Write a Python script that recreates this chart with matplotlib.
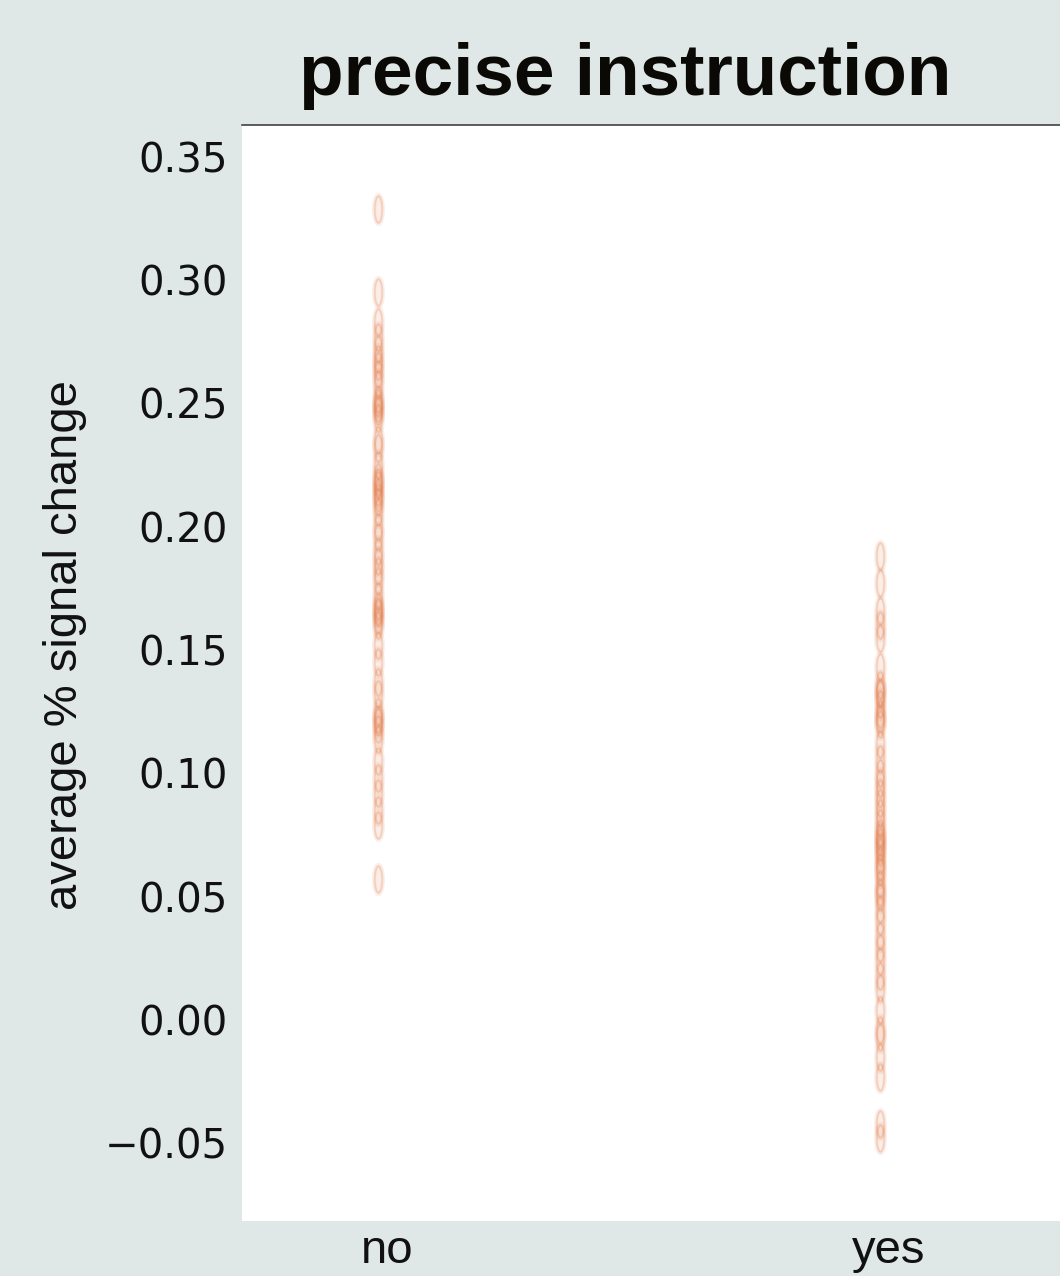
import numpy as np
import matplotlib
matplotlib.use("Agg")
import matplotlib.pyplot as plt
from matplotlib.path import Path
from matplotlib.colors import to_rgba

categories = ["no", "yes"]
values_no = [0.329, 0.295, 0.283, 0.277, 0.272, 0.268, 0.265, 0.262, 0.258, 0.252,
             0.250, 0.248, 0.247, 0.244, 0.235, 0.232, 0.225, 0.220, 0.218, 0.217,
             0.214, 0.212, 0.210, 0.206, 0.200, 0.196, 0.190, 0.186, 0.182, 0.178,
             0.172, 0.168, 0.166, 0.165, 0.162, 0.160, 0.152, 0.145, 0.137, 0.132,
             0.125, 0.122, 0.121, 0.118, 0.114, 0.105, 0.098, 0.092, 0.085, 0.079,
             0.057]
values_yes = [0.188, 0.177, 0.166, 0.160, 0.155, 0.143, 0.136, 0.133, 0.132, 0.128,
              0.124, 0.122, 0.120, 0.112, 0.106, 0.100, 0.096, 0.092, 0.088, 0.084,
              0.080, 0.076, 0.074, 0.072, 0.070, 0.068, 0.065, 0.062, 0.060, 0.055,
              0.052, 0.050, 0.045, 0.040, 0.034, 0.029, 0.024, 0.018, 0.013, 0.004,
              -0.004, -0.007, -0.015, -0.023, -0.042, -0.048]
yticks = [-0.05, 0.00, 0.05, 0.10, 0.15, 0.20, 0.25, 0.30, 0.35]
title = "precise instruction"
ylabel = "average % signal change"

W, H = 1060, 1276
fig = plt.figure(figsize=(W / 100, H / 100), dpi=100)
bg = "#dfe8e6"
fig.patch.set_facecolor(bg)
ax = fig.add_axes([242 / W, 1 - 1221 / H, (W - 242) / W, (1221 - 125) / H])
ax.set_facecolor("white")

# tall narrow ellipse marker
t = np.linspace(0, 2 * np.pi, 60)
verts = np.column_stack([0.30 * np.cos(t), np.sin(t)])
ell = Path(verts, closed=True)

col = "#e5804f"
for i, vals in enumerate([values_no, values_yes]):
    # soft halo
    ax.plot(np.full(len(vals), i), vals, linestyle="none", marker=ell,
            markersize=21, markerfacecolor=to_rgba(col, 0.13),
            markeredgecolor=to_rgba(col, 0.12), markeredgewidth=3.0)
    ax.plot(np.full(len(vals), i), vals, linestyle="none", marker=ell,
            markersize=19, markerfacecolor="none",
            markeredgecolor=to_rgba(col, 0.18), markeredgewidth=1.4)

ax.set_xlim(-0.271, 1.3585)
ax.set_ylim(-0.0815, 0.3629)
ax.set_yticks(yticks)
ax.set_yticklabels([f"{v:.2f}".replace("-", "\u2212") for v in yticks],
                   family="DejaVu Sans", fontsize=29, color="#111111")
ax.set_xticks([i + 0.018 for i in range(len(categories))])
ax.set_xticklabels(categories, family="Liberation Sans", fontsize=34, color="#111111")
ax.tick_params(axis="both", length=0)
ax.tick_params(axis="y", pad=10)
ax.tick_params(axis="x", pad=6)

for s in ["left", "right", "bottom"]:
    ax.spines[s].set_visible(False)
ax.spines["top"].set_color("#333333")
ax.spines["top"].set_linewidth(1.1)

fig.text(625 / W, 1 - 95 / H, title, ha="center", va="baseline",
         family="Liberation Sans", fontweight="bold", fontsize=52.5, color="#0a0905")
fig.text(65 / W, 1 - 645 / H, ylabel, ha="center", va="center", rotation=90,
         family="Liberation Sans", fontsize=34, color="#111111")

fig.savefig("out.png", dpi=100, facecolor=fig.get_facecolor())
